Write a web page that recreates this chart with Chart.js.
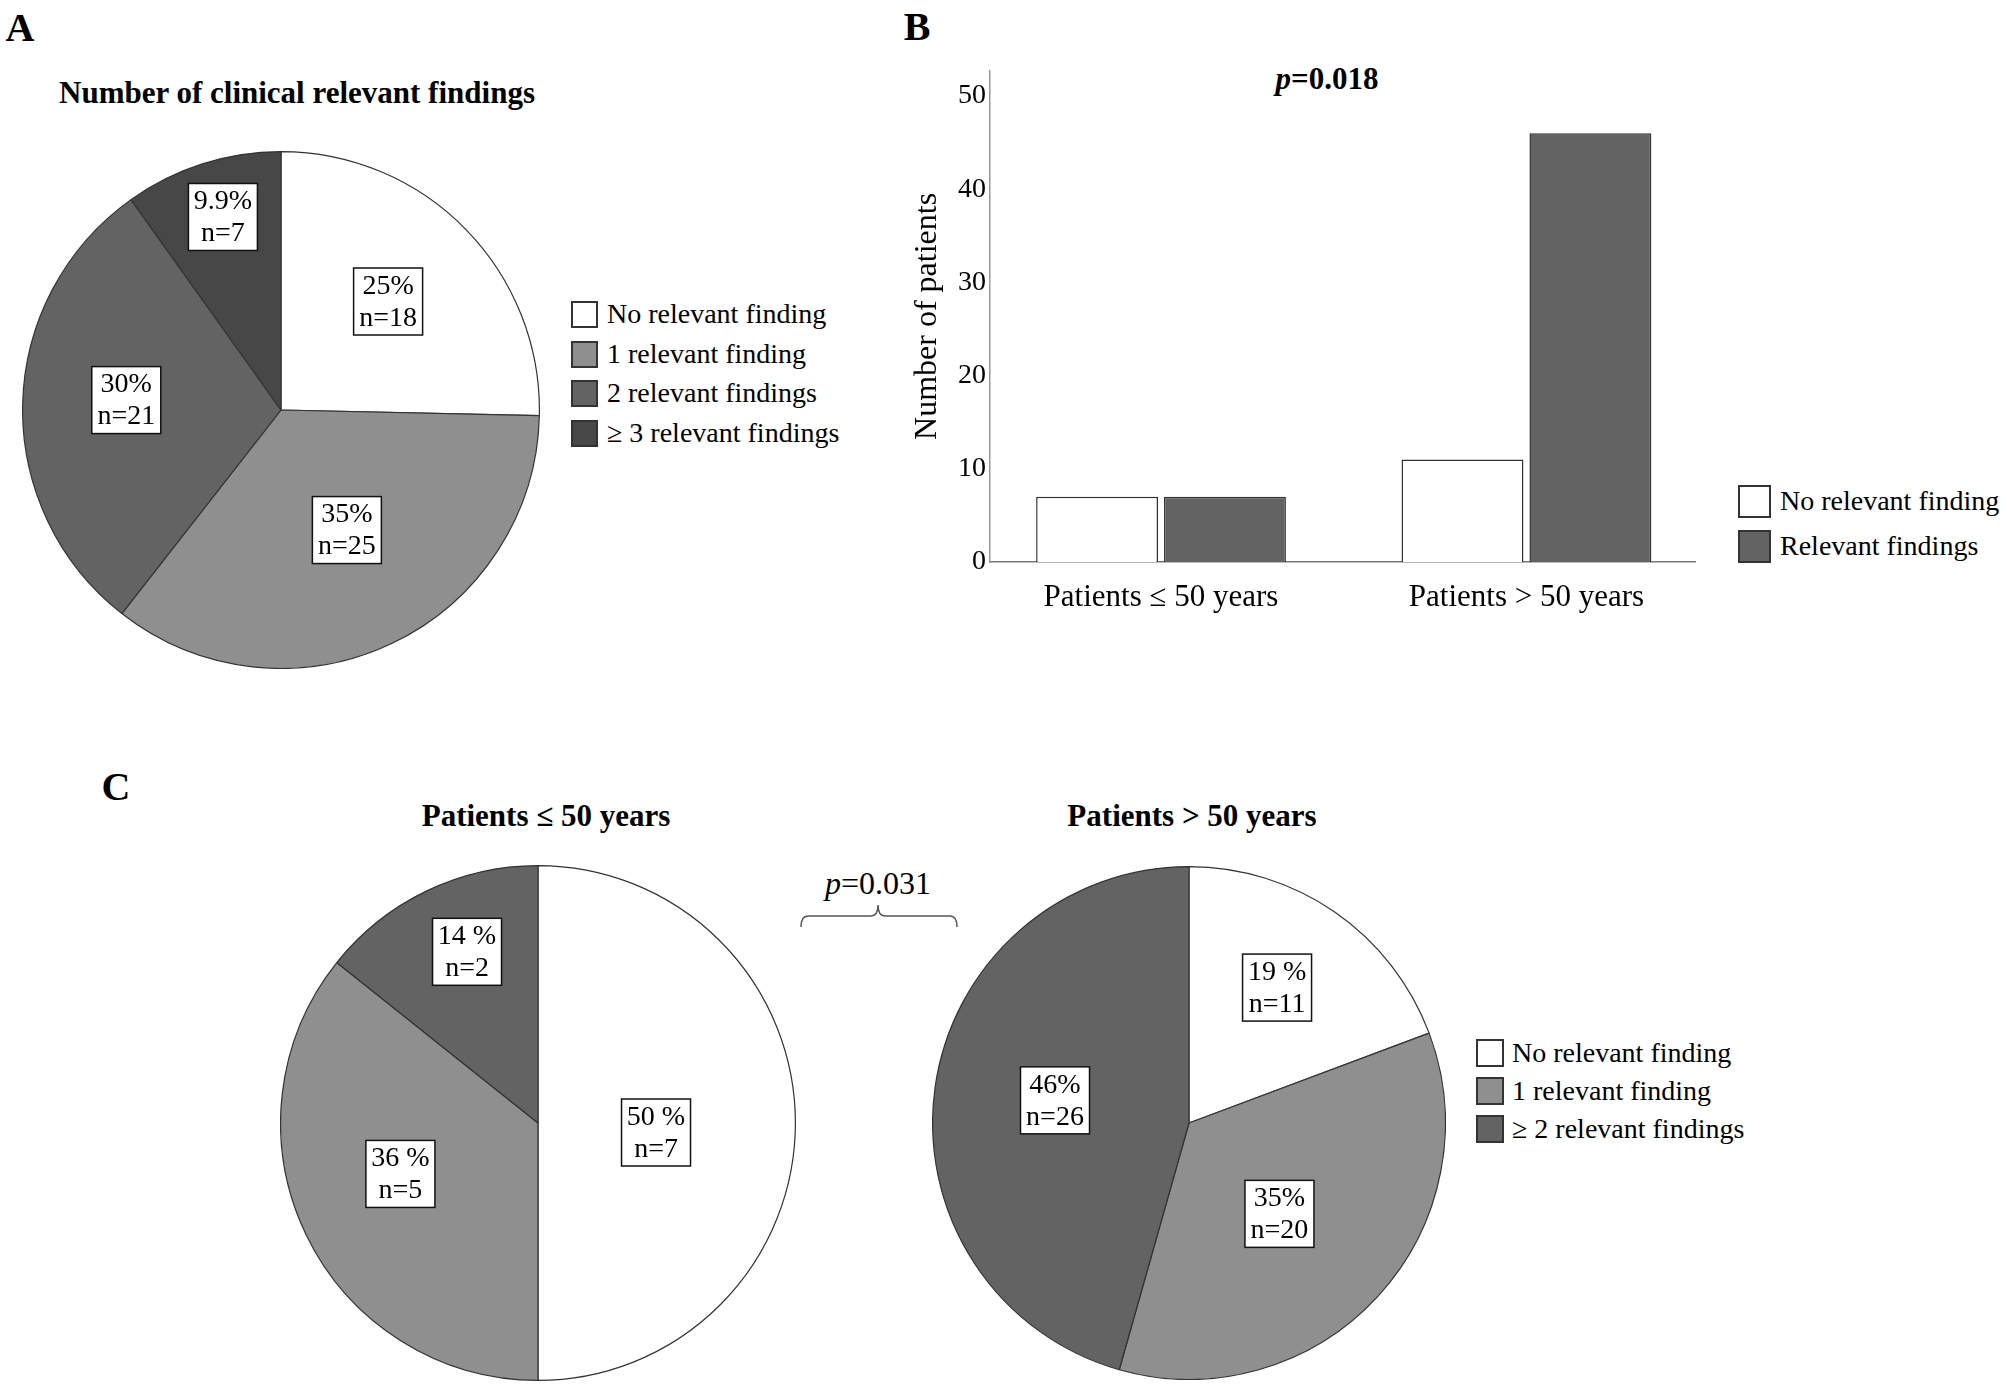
<!DOCTYPE html>
<html>
<head>
<meta charset="utf-8">
<script src="https://cdn.jsdelivr.net/npm/chart.js@4.4.0/dist/chart.umd.min.js"></script>
<style>
  body { margin: 0; background: #fff; }
  #fig { position: relative; width: 2007px; height: 1384px; overflow: hidden;
         font-family: "Liberation Serif", "Times New Roman", serif; color: #000; }
  canvas { position: absolute; }
  .t { position: absolute; white-space: nowrap; line-height: 1; transform: translate(-50%, -50%); }
  .letter { font-weight: bold; font-size: 40px; }
  .title { font-weight: bold; font-size: 31px; }
  .legend { position: absolute; }
  .row { position: absolute; left: 0; display: flex; align-items: center; white-space: nowrap; font-size: 28px; }
  .sw { box-sizing: border-box; border: 2px solid #333; }
</style>
</head>
<body>
<div id="fig">
  <div class="t letter" style="left:20px; top:28px;">A</div>
  <div class="t letter" style="left:917px; top:27px;">B</div>
  <div class="t letter" style="left:116px; top:787px;">C</div>

  <div class="t title" style="left:297px; top:92px;">Number of clinical relevant findings</div>
  <div class="t title" style="left:1327px; top:78px;"><i>p</i>=0.018</div>
  <div class="t title" style="left:546px; top:815px;">Patients ≤ 50 years</div>
  <div class="t title" style="left:1192px; top:815px;">Patients &gt; 50 years</div>
  <div class="t" style="left:878px; top:883px; font-size:32px;"><i>p</i>=0.031</div>

  <svg style="position:absolute; left:0; top:0;" width="2007" height="1384">
    <path d="M801,927 Q801,916 808,916 L871,916 Q878,916 878,905 Q878,916 885,916 L950,916 Q957,916 957,927"
          fill="none" stroke="#555" stroke-width="1.5"/>
  </svg>

  <canvas id="pieA" width="518" height="518" style="left:22px; top:151px;"></canvas>
  <canvas id="barB" width="816" height="592" style="left:880px; top:50px;"></canvas>
  <canvas id="pieC1" width="516" height="516" style="left:280px; top:865px;"></canvas>
  <canvas id="pieC2" width="514" height="514" style="left:932px; top:866px;"></canvas>

  <div class="legend" id="legA" style="left:571px; top:0;"></div>
  <div class="legend" id="legB" style="left:1738px; top:0;"></div>
  <div class="legend" id="legC" style="left:1476px; top:0;"></div>
</div>

<script>
// panel A: all patients
const findingsA = ['No relevant finding', '1 relevant finding', '2 relevant findings', '≥ 3 relevant findings'];
const countsA = [18, 25, 21, 7];
const textA = [['25%', 'n=18'], ['35%', 'n=25'], ['30%', 'n=21'], ['9.9%', 'n=7']];

// panel B: age groups
const ageGroups = ['Patients ≤ 50 years', 'Patients > 50 years'];
const barSeries = ['No relevant finding', 'Relevant findings'];
const noFinding = [7, 11];
const withFindings = [7, 46];
const yTicks = [0, 10, 20, 30, 40, 50];

// panel C: by age group
const findingsC = ['No relevant finding', '1 relevant finding', '≥ 2 relevant findings'];
const countsYoung = [7, 5, 2];
const textYoung = [['50 %', 'n=7'], ['36 %', 'n=5'], ['14 %', 'n=2']];
const countsOld = [11, 20, 26];
const textOld = [['19 %', 'n=11'], ['35%', 'n=20'], ['46%', 'n=26']];

const WHITE = '#ffffff', LIGHT = '#8f8f8f', MID = '#636363', DARK = '#474747';
const colorsA = [WHITE, LIGHT, MID, DARK];
const colorsC = [WHITE, LIGHT, MID];

Chart.defaults.font.family = '"Liberation Serif", "Times New Roman", serif';
Chart.defaults.color = '#000';

// white boxes with percent / n inside each slice
// dist = fraction of radius, turn = degrees off the slice middle
const boxLabels = {
  id: 'boxLabels',
  afterDatasetsDraw(chart, args, opts) {
    const ctx = chart.ctx;
    const meta = chart.getDatasetMeta(0);
    ctx.save();
    ctx.font = '28px "Liberation Serif"';
    ctx.textAlign = 'center';
    ctx.textBaseline = 'middle';
    meta.data.forEach((arc, i) => {
      const p = arc.getProps(['x', 'y', 'startAngle', 'endAngle', 'outerRadius'], true);
      const a = (p.startAngle + p.endAngle) / 2 + opts.turn[i] * Math.PI / 180;
      const r = p.outerRadius * opts.dist[i];
      const cx = p.x + Math.cos(a) * r;
      const cy = p.y + Math.sin(a) * r;
      const lines = opts.text[i];
      const w = 69, h = 67;
      ctx.fillStyle = '#fff';
      ctx.fillRect(cx - w / 2, cy - h / 2, w, h);
      ctx.strokeStyle = '#111';
      ctx.lineWidth = 1.5;
      ctx.strokeRect(cx - w / 2, cy - h / 2, w, h);
      ctx.fillStyle = '#000';
      ctx.fillText(lines[0], cx, cy - 15);
      ctx.fillText(lines[1], cx, cy + 17);
    });
    ctx.restore();
  }
};

function makePie(id, labels, data, colors, text, dist, turn) {
  return new Chart(document.getElementById(id), {
    type: 'pie',
    data: {
      labels: labels,
      datasets: [{
        data: data,
        backgroundColor: colors,
        borderColor: '#333',
        borderWidth: 1.2
      }]
    },
    options: {
      responsive: false,
      animation: false,
      events: [],
      layout: { padding: 0 },
      plugins: {
        legend: { display: false },
        tooltip: { enabled: false },
        boxLabels: { text: text, dist: dist, turn: turn }
      }
    },
    plugins: [boxLabels]
  });
}

makePie('pieA', findingsA, countsA, colorsA, textA, [0.59, 0.53, 0.60, 0.78], [-1, -3.4, 2.4, 1]);
makePie('pieC1', findingsC, countsYoung, colorsC, textYoung, [0.46, 0.57, 0.72], [4.6, 5.4, 3.2]);
makePie('pieC2', findingsC, countsOld, colorsC, textOld, [0.63, 0.50, 0.53], [-1.7, 2.5, 1.7]);

// bars on a linear x axis so the group centres sit where the original has them
const barOpts = { borderColor: '#333', borderWidth: 1.5, categoryPercentage: 0.70, barPercentage: 0.953 };
new Chart(document.getElementById('barB'), {
  type: 'bar',
  data: {
    datasets: [
      Object.assign({ label: barSeries[0], backgroundColor: WHITE,
        data: noFinding.map((v, i) => ({ x: i, y: v })) }, barOpts),
      Object.assign({ label: barSeries[1], backgroundColor: MID,
        data: withFindings.map((v, i) => ({ x: i, y: v })) }, barOpts)
    ]
  },
  options: {
    responsive: false,
    animation: false,
    events: [],
    layout: { padding: { top: 17, left: 0, right: 0, bottom: 0 } },
    plugins: {
      legend: { display: false },
      tooltip: { enabled: false }
    },
    scales: {
      x: {
        type: 'linear',
        min: -0.468,
        max: 1.464,
        offset: false,
        grid: { display: false, drawTicks: false },
        border: { color: '#777', width: 1.5 },
        afterBuildTicks(s) { s.ticks = ageGroups.map((g, i) => ({ value: i })); },
        ticks: { font: { size: 31 }, padding: 17, maxRotation: 0, autoSkip: false,
                 callback: v => ageGroups[v] },
        afterFit(s) { s.height = 80; }
      },
      y: {
        min: 0,
        max: 52.7,
        grid: { display: false, drawTicks: false },
        border: { color: '#999', width: 1.5 },
        afterBuildTicks(s) { s.ticks = yTicks.map(v => ({ value: v })); },
        ticks: { font: { size: 28 }, padding: 4 },
        title: { display: true, text: 'Number of patients', font: { size: 32 }, padding: { top: 28, bottom: 0 } },
        afterFit(s) { s.width = 110; }
      }
    }
  }
});

// html legends
function legend(id, labels, colors, box, centers, gap) {
  const el = document.getElementById(id);
  labels.forEach((lab, i) => {
    const row = document.createElement('div');
    row.className = 'row';
    row.style.top = (centers[i] - box / 2) + 'px';
    row.style.height = box + 'px';
    const sw = document.createElement('div');
    sw.className = 'sw';
    sw.style.width = box + 'px';
    sw.style.height = box + 'px';
    sw.style.background = colors[i];
    sw.style.marginRight = gap + 'px';
    const tx = document.createElement('span');
    tx.textContent = lab;
    row.appendChild(sw);
    row.appendChild(tx);
    el.appendChild(row);
  });
}
legend('legA', findingsA, colorsA, 27, [314, 354, 393, 433], 9);
legend('legB', barSeries, [WHITE, MID], 33, [501, 546], 9);
legend('legC', findingsC, colorsC, 28, [1053, 1091, 1129], 8);
</script>
</body>
</html>
